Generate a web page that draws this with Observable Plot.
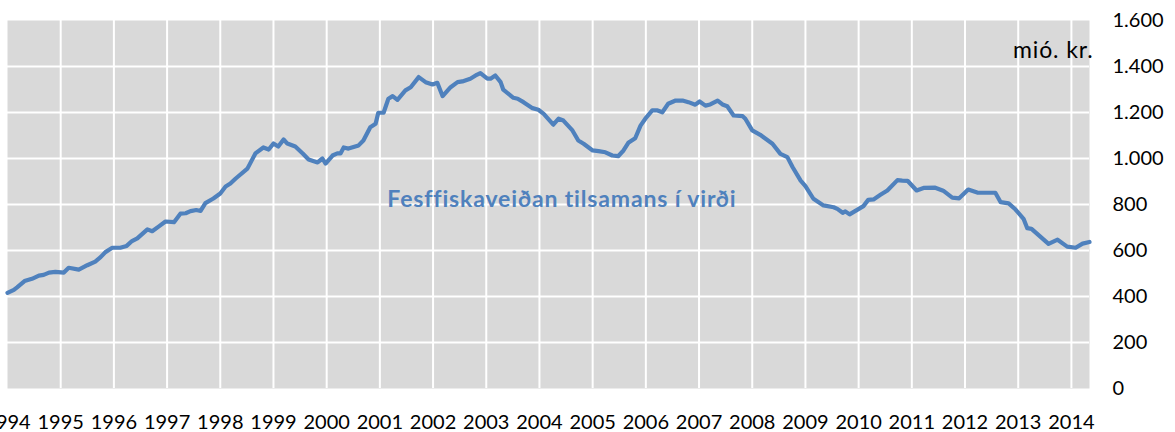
<!DOCTYPE html>
<html>
<head>
<meta charset="utf-8">
<script src="https://cdn.jsdelivr.net/npm/d3@7"></script>
<script src="https://cdn.jsdelivr.net/npm/@observablehq/plot@0.6"></script>
<style>
  html, body { margin: 0; padding: 0; background: white; }
  #chart { width: 1175px; height: 432px; overflow: hidden; }
</style>
</head>
<body>
<div id="chart"></div>
<script>
// Time as decimal years, values in mió. kr.
const times = [
  1994.00, 1994.12, 1994.18, 1994.32, 1994.46, 1994.59, 1994.68, 1994.78, 1994.90,
  1995.06, 1995.15, 1995.34, 1995.50, 1995.65, 1995.75, 1995.84, 1995.97,
  1996.12, 1996.24, 1996.34, 1996.44, 1996.63, 1996.72, 1996.84, 1996.97,
  1997.13, 1997.25, 1997.35, 1997.44, 1997.55, 1997.63, 1997.72, 1997.87,
  1998.00, 1998.10, 1998.19, 1998.29, 1998.51, 1998.66, 1998.81, 1998.91,
  1999.00, 1999.09, 1999.19, 1999.26, 1999.41, 1999.55, 1999.66, 1999.83, 1999.92, 1999.98,
  2000.11, 2000.20, 2000.26, 2000.32, 2000.41, 2000.60, 2000.69, 2000.82, 2000.92, 2000.97,
  2001.07, 2001.16, 2001.24, 2001.33, 2001.48, 2001.58, 2001.73, 2001.86, 2001.99,
  2002.08, 2002.18, 2002.33, 2002.46, 2002.55, 2002.70, 2002.80, 2002.89,
  2003.02, 2003.08, 2003.17, 2003.27, 2003.32, 2003.51, 2003.59, 2003.70, 2003.87, 2003.98,
  2004.08, 2004.21, 2004.26, 2004.36, 2004.45, 2004.62, 2004.73, 2004.83,
  2005.00, 2005.11, 2005.24, 2005.37, 2005.48, 2005.58, 2005.67, 2005.80, 2005.90, 2005.99,
  2006.12, 2006.22, 2006.31, 2006.42, 2006.56, 2006.69, 2006.80, 2006.93,
  2007.01, 2007.12, 2007.21, 2007.35, 2007.44, 2007.53, 2007.65, 2007.82, 2007.87,
  2008.00, 2008.15, 2008.38, 2008.53, 2008.66, 2008.76, 2008.91,
  2009.00, 2009.15, 2009.34, 2009.53, 2009.60, 2009.70, 2009.75, 2009.83,
  2010.09, 2010.18, 2010.28, 2010.41, 2010.54, 2010.73, 2010.82, 2010.92,
  2011.09, 2011.22, 2011.44, 2011.59, 2011.76, 2011.89,
  2012.06, 2012.23, 2012.57, 2012.67, 2012.82, 2012.95,
  2013.10, 2013.17, 2013.25, 2013.57, 2013.74, 2013.92,
  2014.08, 2014.21, 2014.34
];
const values = [
  416, 429, 440, 467, 477, 491, 494, 504, 507,
  504, 525, 517, 536, 552, 571, 593, 612,
  612, 620, 641, 653, 692, 684, 704, 726,
  723, 760, 762, 771, 776, 772, 806, 826,
  848, 878, 891, 913, 956, 1022, 1048, 1039,
  1065, 1052, 1083, 1065, 1052, 1022, 996, 983, 1000, 978,
  1013, 1022, 1022, 1048, 1043, 1057, 1078, 1136, 1151, 1199,
  1199, 1260, 1271, 1255, 1296, 1310, 1354, 1332, 1322,
  1329, 1271, 1310, 1332, 1335, 1347, 1361, 1371,
  1347, 1347, 1361, 1332, 1299, 1264, 1260, 1245, 1219, 1212,
  1194, 1160, 1147, 1173, 1165, 1122, 1078, 1064,
  1035, 1032, 1027, 1013, 1010, 1035, 1068, 1088, 1143, 1173,
  1209, 1209, 1201, 1238, 1252, 1252, 1245, 1234,
  1248, 1230, 1235, 1252, 1235, 1227, 1187, 1184, 1173,
  1122, 1103, 1064, 1020, 1006, 962, 904,
  880, 825, 796, 788, 781, 764, 770, 757,
  793, 820, 822, 842, 861, 906, 904, 903,
  861, 872, 873, 860, 830, 827,
  865, 852, 851, 810, 805, 778,
  738, 697, 694, 629, 647, 617,
  612, 630, 637
];
const yearTicks = d3.range(1994, 2015);
const valueTicks = d3.range(0, 1601, 200);
const unitLabel = ["mió. kr."];
const seriesLabel = ["Fesffiskaveiðan tilsamans í virði"];

const table = times.map((t, i) => ({t, v: values[i]}));
const isFmt = d3.formatLocale({decimal: ",", thousands: ".", grouping: [3], currency: ["", " kr."]}).format(",d");

const blue = "#4F81BD";

const chart = Plot.plot({
  width: 1175,
  height: 432,
  marginLeft: 7,
  marginRight: 86,
  marginTop: 20,
  marginBottom: 44,
  style: {fontFamily: "Lato, 'Open Sans', sans-serif", fontSize: "20px", color: "#000", background: "white", overflow: "visible"},
  x: {domain: [1994, 2014.34], ticks: yearTicks, tickFormat: d => String(d), tickSize: 0, tickPadding: 26, label: null},
  y: {domain: [0, 1600], ticks: valueTicks, axis: "right", tickFormat: isFmt, tickSize: 0, tickPadding: 23, label: null},
  marks: [
    Plot.frame({fill: "#D9D9D9", stroke: null}),
    Plot.ruleX(yearTicks.slice(1), {stroke: "white", strokeWidth: 2}),
    Plot.ruleY(valueTicks.slice(1, -1), {stroke: "white", strokeWidth: 2}),
    Plot.line(table, {x: "t", y: "v", stroke: blue, strokeWidth: 4.2, strokeLinejoin: "round", strokeLinecap: "round"}),
    Plot.text(unitLabel, {text: d => d, frameAnchor: "top-right", textAnchor: "end", lineAnchor: "middle", dx: 4, dy: 30, fontSize: 23, fill: "#000", className: "unit-label"}),
    Plot.text(seriesLabel, {text: d => d, x: 2001.14, y: 822, textAnchor: "start", lineAnchor: "middle", fontSize: 23, fontWeight: "bold", fill: blue, className: "series-label"})
  ]
});
d3.select(chart).selectAll(".unit-label text").attr("letter-spacing", "0.9px");
d3.select(chart).selectAll(".series-label text").attr("letter-spacing", "0.85px");
document.getElementById("chart").appendChild(chart);
</script>
</body>
</html>
